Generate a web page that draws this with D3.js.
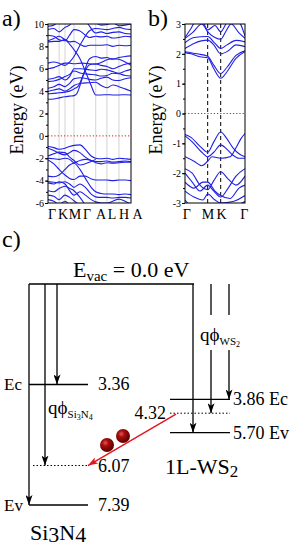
<!DOCTYPE html>
<html>
<head>
<meta charset="utf-8">
<script src="https://cdn.jsdelivr.net/npm/d3@7"></script>
<style>
  body { margin: 0; background: #fff; }
  svg { display: block; font-family: "Liberation Serif", "Times New Roman", serif; }
</style>
</head>
<body>
<div id="fig"></div>
<script>
// ---------- data ----------
// panel a: Si3N4 bulk band structure, k along path (0..1), energy in eV
const A_KPOINTS = [0, 0.134, 0.205, 0.313, 0.575, 0.71, 0.855, 1.0];
const A_KLABELS = ["Γ", "K", "M", "Γ", "A", "L", "H", "A"];
const A_KLABEL_POS = [0.048, 0.181, 0.325, 0.47, 0.639, 0.771, 0.916, 1.08];
const A_YTICKS = [10, 8, 6, 4, 2, 0, -2, -4, -6];

const A_BANDS = [
  // conduction bands
  [[0,3.27],[0.07,3.3],[0.134,3.4],[0.205,3.5],[0.26,3.55],[0.313,3.6],[0.345,3.75],[0.42,5.3],[0.5,6.9],[0.575,7.1],[0.64,6.95],[0.71,7.0],[0.78,6.85],[0.855,7.0],[0.93,7.1],[1,7.15]],
  [[0,8.4],[0.07,8.45],[0.134,8.45],[0.2,8.6],[0.26,8.2],[0.313,7.7],[0.385,6.9],[0.46,5.6],[0.52,4.5],[0.575,3.66],[0.64,3.66],[0.71,3.68],[0.78,3.66],[0.855,3.66],[0.93,3.68],[1,3.66]],
  [[0,3.75],[0.07,3.8],[0.134,3.85],[0.205,3.9],[0.26,4.0],[0.313,4.2],[0.36,4.4],[0.44,5.7],[0.5,6.35],[0.575,6.45],[0.64,6.3],[0.71,6.2],[0.78,6.0],[0.855,6.2],[0.93,6.4],[1,6.5]],
  [[0,3.96],[0.07,4.1],[0.134,4.2],[0.205,4.0],[0.26,4.2],[0.313,4.5],[0.4,4.7],[0.5,4.75],[0.575,4.8],[0.64,4.5],[0.71,4.3],[0.78,4.55],[0.855,4.4],[0.93,4.2],[1,4.0]],
  [[0,4.26],[0.07,4.4],[0.134,4.6],[0.205,4.4],[0.26,4.7],[0.313,5.1],[0.4,5.2],[0.5,5.05],[0.575,5.0],[0.64,5.15],[0.71,5.25],[0.78,5.0],[0.855,4.95],[0.93,5.1],[1,5.2]],
  [[0,4.85],[0.07,4.9],[0.134,5.05],[0.205,5.3],[0.26,5.5],[0.313,5.8],[0.4,5.6],[0.5,5.5],[0.575,5.45],[0.64,5.35],[0.71,5.4],[0.78,5.6],[0.855,5.55],[0.93,5.4],[1,5.35]],
  [[0,5.06],[0.07,5.15],[0.134,5.3],[0.205,5.0],[0.26,5.3],[0.313,6.0],[0.4,6.0],[0.5,5.9],[0.575,5.85],[0.64,5.95],[0.71,5.9],[0.78,5.75],[0.855,5.6],[0.93,5.8],[1,5.95]],
  [[0,6.0],[0.07,6.1],[0.134,6.3],[0.205,6.5],[0.26,6.5],[0.313,6.45],[0.4,6.5],[0.5,6.45],[0.575,6.4],[0.64,6.55],[0.71,6.8],[0.78,6.9],[0.855,6.85],[0.93,6.6],[1,6.3]],
  [[0,6.5],[0.07,6.6],[0.134,6.5],[0.205,6.3],[0.26,6.6],[0.313,7.1],[0.4,8.3],[0.5,9.4],[0.575,9.6],[0.64,9.55],[0.71,9.5],[0.78,9.6],[0.855,9.7],[0.93,9.55],[1,9.5]],
  [[0,8.5],[0.07,8.7],[0.134,8.9],[0.205,8.6],[0.26,8.4],[0.313,8.45],[0.38,8.2],[0.45,8.0],[0.5,8.1],[0.575,8.1],[0.64,8.1],[0.71,8.15],[0.78,8.0],[0.855,8.1],[0.93,8.05],[1,8.1]],
  [[0,9.0],[0.07,8.9],[0.134,8.6],[0.205,8.5],[0.26,9.0],[0.313,9.5],[0.38,9.4],[0.45,9.0],[0.5,8.8],[0.575,8.9],[0.64,8.85],[0.71,8.9],[0.78,8.75],[0.855,8.8],[0.93,8.9],[1,8.85]],
  [[0,9.5],[0.07,9.6],[0.134,9.3],[0.205,9.7],[0.26,9.9],[0.313,10.3],[0.45,10.2],[0.575,9.2],[0.64,9.3],[0.71,9.15],[0.78,9.25],[0.855,9.3],[0.93,9.15],[1,9.1]],
  [[0,9.8],[0.07,9.9],[0.134,10.2],[0.205,10.1],[0.26,10.4],[0.5,10.3],[0.575,10.1],[0.64,9.9],[0.71,9.95],[0.78,10.1],[0.855,9.85],[0.93,9.9],[1,10.0]],
  // valence bands
  [[0,-0.95],[0.07,-1.05],[0.134,-1.2],[0.205,-1.1],[0.26,-0.95],[0.313,-0.85],[0.385,-0.8],[0.45,-1.2],[0.52,-1.8],[0.575,-2.0],[0.64,-2.05],[0.71,-2.0],[0.78,-2.1],[0.855,-2.0],[0.93,-2.05],[1,-2.1]],
  [[0,-1.1],[0.07,-1.3],[0.134,-1.55],[0.205,-1.7],[0.26,-1.5],[0.313,-1.3],[0.385,-1.5],[0.45,-1.9],[0.52,-2.2],[0.575,-2.3],[0.64,-2.3],[0.71,-2.25],[0.78,-2.35],[0.855,-2.3],[0.93,-2.25],[1,-2.3]],
  [[0,-2.0],[0.07,-2.05],[0.134,-2.1],[0.205,-2.0],[0.26,-2.1],[0.313,-2.4],[0.385,-2.2],[0.45,-2.1],[0.52,-2.2],[0.575,-2.4],[0.64,-2.5],[0.71,-2.4],[0.78,-2.45],[0.855,-2.4],[0.93,-2.35],[1,-2.35]],
  [[0,-2.15],[0.07,-2.5],[0.134,-3.0],[0.205,-3.5],[0.26,-3.8],[0.313,-3.9],[0.385,-3.6],[0.45,-3.6],[0.52,-3.85],[0.575,-3.95],[0.64,-3.95],[0.71,-3.95],[0.78,-4.0],[0.855,-3.95],[0.93,-3.95],[1,-4.0]],
  [[0,-3.6],[0.07,-3.65],[0.134,-3.5],[0.205,-3.0],[0.26,-2.6],[0.313,-2.45],[0.385,-3.0],[0.45,-3.8],[0.52,-4.6],[0.575,-5.0],[0.64,-5.15],[0.71,-5.2],[0.78,-5.2],[0.855,-5.25],[0.93,-5.2],[1,-5.25]],
  [[0,-4.1],[0.07,-4.15],[0.134,-4.2],[0.205,-4.1],[0.26,-4.3],[0.313,-4.6],[0.385,-4.3],[0.45,-4.6],[0.52,-5.2],[0.575,-5.45],[0.64,-5.5],[0.71,-5.5],[0.78,-5.55],[0.855,-5.5],[0.93,-5.5],[1,-5.55]],
  [[0,-4.2],[0.07,-4.3],[0.134,-4.1],[0.205,-4.3],[0.26,-4.9],[0.313,-5.3],[0.385,-5.0],[0.45,-5.3],[0.52,-5.7],[0.575,-5.9],[0.64,-6.0],[0.71,-6.0],[0.78,-5.85],[0.855,-5.65],[0.93,-5.85],[1,-6.1]],
  [[0,-4.9],[0.07,-5.0],[0.134,-4.7],[0.205,-4.5],[0.26,-4.7],[0.313,-4.9],[0.385,-5.5],[0.45,-6.2]],
  [[0,-5.3],[0.07,-5.4],[0.134,-5.7],[0.205,-5.3],[0.26,-5.5],[0.313,-5.8],[0.4,-6.3]],
  [[0,-5.7],[0.07,-5.85],[0.134,-6.1],[0.205,-5.85],[0.26,-6.2]],
  [[0,-1.8],[0.07,-1.6],[0.134,-1.45],[0.205,-1.5],[0.26,-1.9],[0.313,-2.2],[0.385,-2.6],[0.45,-2.5],[0.52,-2.3],[0.575,-2.1]]
];

// panel b: monolayer WS2 band structure
const B_KPOINTS = [0, 0.378, 0.595, 1.0];
const B_KLABELS = ["Γ", "M", "K", "Γ"];
const B_KLABEL_POS = [0.03, 0.385, 0.61, 0.99];
const B_YTICKS = [3, 2, 1, 0, -1, -2, -3];

const B_BANDS = [
  // conduction bands
  [[0,2.04],[0.1,2.0],[0.25,1.9],[0.378,1.87],[0.48,1.5],[0.595,1.18],[0.7,1.4],[0.85,1.85],[1,2.07]],
  [[0,2.07],[0.2,2.0],[0.378,1.92],[0.48,1.62],[0.595,1.34],[0.7,1.55],[0.85,1.95],[1,2.1]],
  [[0,2.18],[0.15,2.35],[0.378,2.46],[0.48,2.3],[0.595,2.0],[0.72,2.1],[0.85,2.3],[1,2.24]],
  [[0,2.37],[0.15,2.55],[0.378,2.58],[0.5,2.35],[0.595,2.18],[0.7,2.3],[0.85,2.45],[1,2.4]],
  [[0,2.52],[0.12,2.7],[0.28,3.0],[0.378,2.74],[0.5,2.55],[0.595,2.49],[0.68,2.75],[0.77,3.0],[0.9,2.7],[1,2.52]],
  [[0,2.55],[0.1,2.85],[0.2,3.15],[0.3,3.05],[0.378,2.8],[0.5,2.95],[0.595,2.74],[0.7,3.05],[0.85,3.2],[1,2.6]],
  // valence bands
  [[0,-0.7],[0.1,-0.8],[0.25,-1.1],[0.378,-1.3],[0.48,-0.95],[0.595,-0.62],[0.7,-0.85],[0.8,-1.15],[0.9,-1.35],[1,-1.45]],
  [[0,-1.45],[0.15,-1.6],[0.28,-1.75],[0.378,-1.6],[0.45,-1.45],[0.595,-1.5],[0.75,-1.45],[0.85,-1.15],[0.93,-0.85],[1,-0.67]],
  [[0,-0.75],[0.12,-0.95],[0.28,-1.3],[0.378,-1.45],[0.48,-1.3],[0.595,-1.05],[0.7,-1.2],[0.8,-1.4],[0.9,-1.5],[1,-1.5]],
  [[0,-1.85],[0.12,-2.0],[0.25,-2.4],[0.378,-2.55],[0.48,-2.25],[0.595,-1.95],[0.72,-2.2],[0.85,-2.4],[1,-2.1]],
  [[0,-2.0],[0.12,-2.3],[0.25,-2.6],[0.378,-2.4],[0.48,-2.6],[0.595,-2.8],[0.72,-2.5],[0.85,-2.1],[1,-1.85]],
  [[0,-2.3],[0.15,-2.5],[0.3,-2.3],[0.378,-2.3],[0.5,-2.6],[0.595,-2.75],[0.75,-2.85],[0.9,-2.5],[1,-2.4]],
  [[0,-2.6],[0.15,-2.8],[0.3,-2.9],[0.378,-2.7],[0.5,-2.9],[0.595,-3.0],[0.8,-2.95],[1,-2.75]],
  [[0,-2.9],[0.1,-3.1],[0.3,-3.2],[0.5,-3.1],[0.7,-3.2],[0.9,-3.05],[1,-2.95]]
];

// panel c: band alignment (eV below vacuum)
const SI_LEVEL_NAMES = ["Ec", "", "Ev"];
const SI_LEVEL_VALUES = [3.36, 6.07, 7.39];
const WS_LEVEL_NAMES = ["Ec", "", "Ev"];
const WS_LEVEL_VALUES = [3.86, 4.32, 5.70];
const WS_LEVEL_DRAWN = [3.86, 4.32, 4.97]; // 5.70 is drawn off-scale in the figure

// ---------- setup ----------
const W = 294, H = 550;
const svg = d3.select("#fig").append("svg").attr("width", W).attr("height", H);
const defs = svg.append("defs");
const BLUE = "#1f1fe8";

function bandPanel(id, x0, x1, y0, y1, ymin, ymax, bands, kpts, klabels, kpos, yticks, minorStep, dashedK) {
  const X = d3.scaleLinear().domain([0, 1]).range([x0, x1]);
  const Y = d3.scaleLinear().domain([ymin, ymax]).range([y1, y0]);
  const g = svg.append("g");

  defs.append("clipPath").attr("id", id)
    .append("rect").attr("x", x0).attr("y", y0).attr("width", x1 - x0).attr("height", y1 - y0);

  // high-symmetry lines
  g.selectAll(".kline").data(kpts.slice(1, -1)).enter().append("line")
    .attr("x1", d => X(d)).attr("x2", d => X(d))
    .attr("y1", y0).attr("y2", y1)
    .attr("stroke", dashedK ? "#000" : "#c8c8c8")
    .attr("stroke-width", dashedK ? 1 : 0.8)
    .attr("stroke-dasharray", dashedK ? "4,3" : null);

  // fermi level
  g.append("line")
    .attr("x1", x0).attr("x2", x1).attr("y1", Y(0)).attr("y2", Y(0))
    .attr("stroke", "#e3141b").attr("stroke-width", 1).attr("stroke-dasharray", "1.2,2");

  const line = d3.line().x(d => X(d[0])).y(d => Y(d[1])).curve(d3.curveMonotoneX);
  g.append("g").attr("clip-path", `url(#${id})`)
    .selectAll("path").data(bands).enter().append("path")
    .attr("d", line).attr("fill", "none").attr("stroke", BLUE).attr("stroke-width", 1.1);

  g.append("rect").attr("x", x0).attr("y", y0).attr("width", x1 - x0).attr("height", y1 - y0)
    .attr("fill", "none").attr("stroke", "#000").attr("stroke-width", 1);

  // minor ticks
  g.append("g").attr("transform", `translate(${x0},0)`)
    .call(d3.axisLeft(Y).tickValues(d3.range(ymin, ymax + 1e-6, minorStep)).tickSize(2).tickFormat(""))
    .call(a => a.select(".domain").remove());
  // major ticks
  g.append("g").attr("transform", `translate(${x0},0)`)
    .call(d3.axisLeft(Y).tickValues(yticks).tickSize(3).tickPadding(1).tickFormat(d => String(d)))
    .call(a => a.select(".domain").remove())
    .call(a => a.selectAll("text").attr("font-size", 10).attr("font-family", "Liberation Serif").attr("fill", "#000"));

  g.selectAll(".klab").data(klabels).enter().append("text")
    .attr("x", (d, i) => X(kpos[i])).attr("y", 219)
    .attr("text-anchor", "middle").attr("font-size", 14).text(d => d);

  return { X, Y };
}

bandPanel("clipA", 48, 131, 24, 203, -6, 10, A_BANDS, A_KPOINTS, A_KLABELS, A_KLABEL_POS, A_YTICKS, 1, false);
bandPanel("clipB", 185, 245, 24, 203, -3, 3, B_BANDS, B_KPOINTS, B_KLABELS, B_KLABEL_POS, B_YTICKS, 0.5, true);

svg.append("text").attr("transform", "translate(23,110) rotate(-90)")
  .attr("text-anchor", "middle").attr("font-size", 18).text("Energy (eV)");
svg.append("text").attr("transform", "translate(162,110) rotate(-90)")
  .attr("text-anchor", "middle").attr("font-size", 18).text("Energy (eV)");
svg.append("text").attr("x", 2).attr("y", 26).attr("font-size", 24).text("a)");
svg.append("text").attr("x", 148).attr("y", 26).attr("font-size", 24).text("b)");
svg.append("text").attr("x", 2).attr("y", 247).attr("font-size", 24).text("c)");

// ---------- panel c ----------
const E = d3.scaleLinear().domain([0, 7.39]).range([284, 505]);

defs.append("marker").attr("id", "ah").attr("viewBox", "0 0 10 7")
  .attr("refX", 10).attr("refY", 3.5).attr("markerWidth", 10).attr("markerHeight", 7)
  .attr("markerUnits", "userSpaceOnUse").attr("orient", "auto")
  .append("path").attr("d", "M0,0L10,3.5L0,7L2.5,3.5Z").attr("fill", "#000");
defs.append("marker").attr("id", "ahr").attr("viewBox", "0 0 10 7")
  .attr("refX", 10).attr("refY", 3.5).attr("markerWidth", 10).attr("markerHeight", 7)
  .attr("markerUnits", "userSpaceOnUse").attr("orient", "auto")
  .append("path").attr("d", "M0,0L10,3.5L0,7L2.5,3.5Z").attr("fill", "#e3141b");
const grad = defs.append("radialGradient").attr("id", "ball").attr("cx", 0.38).attr("cy", 0.35).attr("r", 0.65);
grad.append("stop").attr("offset", 0).attr("stop-color", "#e05a5a");
grad.append("stop").attr("offset", 0.35).attr("stop-color", "#a80d0d");
grad.append("stop").attr("offset", 1).attr("stop-color", "#5a0000");

const c = svg.append("g").attr("stroke", "#000").attr("stroke-width", 1.3).attr("fill", "none");

// vacuum level
c.append("line").attr("x1", 29).attr("x2", 194).attr("y1", E(0)).attr("y2", E(0));

// Si3N4 levels
const siX0 = 29, siX1 = 88;
SI_LEVEL_VALUES.forEach((v, i) => {
  c.append("line").attr("x1", i === 1 ? 33 : siX0).attr("x2", siX1).attr("y1", E(v)).attr("y2", E(v))
    .attr("stroke-width", i === 1 ? 1 : 1.3)
    .attr("stroke-dasharray", i === 1 ? "1.5,2" : null);
});
// Si3N4 arrows: Ev, work function, Ec
[[29, 2], [45, 1], [57, 0]].forEach(([x, i]) => {
  c.append("line").attr("x1", x).attr("x2", x).attr("y1", E(0)).attr("y2", E(SI_LEVEL_VALUES[i]))
    .attr("marker-end", "url(#ah)");
});

// WS2 levels
const wsX0 = 170, wsX1 = 230;
WS_LEVEL_DRAWN.forEach((v, i) => {
  c.append("line").attr("x1", wsX0).attr("x2", wsX1).attr("y1", E(v)).attr("y2", E(v))
    .attr("stroke-width", i === 1 ? 1 : 1.3)
    .attr("stroke-dasharray", i === 1 ? "1.5,2" : null);
});
// WS2 arrows: Ev (continuous), work function and Ec (broken by label)
c.append("line").attr("x1", 193).attr("x2", 193).attr("y1", E(0)).attr("y2", E(WS_LEVEL_DRAWN[2]))
  .attr("marker-end", "url(#ah)");
[[211, 1], [229, 0]].forEach(([x, i]) => {
  c.append("line").attr("x1", x).attr("x2", x).attr("y1", E(0)).attr("y2", 315);
  c.append("line").attr("x1", x).attr("x2", x).attr("y1", 350).attr("y2", E(WS_LEVEL_DRAWN[i]))
    .attr("marker-end", "url(#ah)");
});

// electron transfer arrow and electrons
svg.append("line").attr("x1", 176).attr("y1", E(WS_LEVEL_DRAWN[1]) + 1)
  .attr("x2", 88).attr("y2", E(SI_LEVEL_VALUES[1]))
  .attr("stroke", "#e3141b").attr("stroke-width", 1.4).attr("marker-end", "url(#ahr)");
svg.selectAll(".ball").data([[107, 445], [123, 436]]).enter().append("circle")
  .attr("cx", d => d[0]).attr("cy", d => d[1]).attr("r", 7).attr("fill", "url(#ball)");

// text
const t = svg.append("g").attr("fill", "#000");
const ev = t.append("text").attr("x", 73).attr("y", 277).attr("font-size", 22);
ev.append("tspan").text("E");
ev.append("tspan").attr("font-size", 15).attr("dy", 4).text("vac");
ev.append("tspan").attr("dy", -4).text(" = 0.0 eV");

t.append("text").attr("x", 4).attr("y", E(SI_LEVEL_VALUES[0]) + 6).attr("font-size", 17).text(SI_LEVEL_NAMES[0]);
t.append("text").attr("x", 4).attr("y", E(SI_LEVEL_VALUES[2]) + 6).attr("font-size", 17).text(SI_LEVEL_NAMES[2]);
SI_LEVEL_VALUES.forEach(v => {
  t.append("text").attr("x", 98).attr("y", E(v) + 6).attr("font-size", 18).text(v.toFixed(2));
});
t.append("text").attr("x", 233).attr("y", E(WS_LEVEL_DRAWN[0]) + 6).attr("font-size", 18)
  .text(WS_LEVEL_VALUES[0].toFixed(2) + " " + WS_LEVEL_NAMES[0]);
t.append("text").attr("x", 233).attr("y", E(WS_LEVEL_DRAWN[2]) + 6).attr("font-size", 18)
  .text(WS_LEVEL_VALUES[2].toFixed(2) + " " + WS_LEVEL_NAMES[2]);
t.append("text").attr("x", 166).attr("y", E(WS_LEVEL_DRAWN[1]) + 6).attr("text-anchor", "end")
  .attr("font-size", 18).text(WS_LEVEL_VALUES[1].toFixed(2));

const q1 = t.append("text").attr("x", 48).attr("y", 414).attr("font-size", 19);
q1.append("tspan").text("qϕ");
const q1s = q1.append("tspan").attr("font-size", 11).attr("dy", 4);
q1s.append("tspan").text("Si");
q1s.append("tspan").attr("font-size", 8).attr("dy", 2).text("3");
q1s.append("tspan").attr("font-size", 11).attr("dy", -2).text("N");
q1s.append("tspan").attr("font-size", 8).attr("dy", 2).text("4");

const q2 = t.append("text").attr("x", 200).attr("y", 341).attr("font-size", 19);
q2.append("tspan").text("qϕ");
q2.append("tspan").attr("font-size", 11).attr("dy", 4).text("WS");
q2.append("tspan").attr("font-size", 8).attr("dy", 2).text("2");

const si = t.append("text").attr("x", 30).attr("y", 540).attr("font-size", 22);
si.append("tspan").text("Si");
si.append("tspan").attr("dy", 2).text("3");
si.append("tspan").attr("dy", -2).text("N");
si.append("tspan").attr("dy", 2).text("4");

const ws = t.append("text").attr("x", 165).attr("y", 474).attr("font-size", 22);
ws.append("tspan").text("1L-WS");
ws.append("tspan").attr("font-size", 17).attr("dy", 3).text("2");
</script>
</body>
</html>
